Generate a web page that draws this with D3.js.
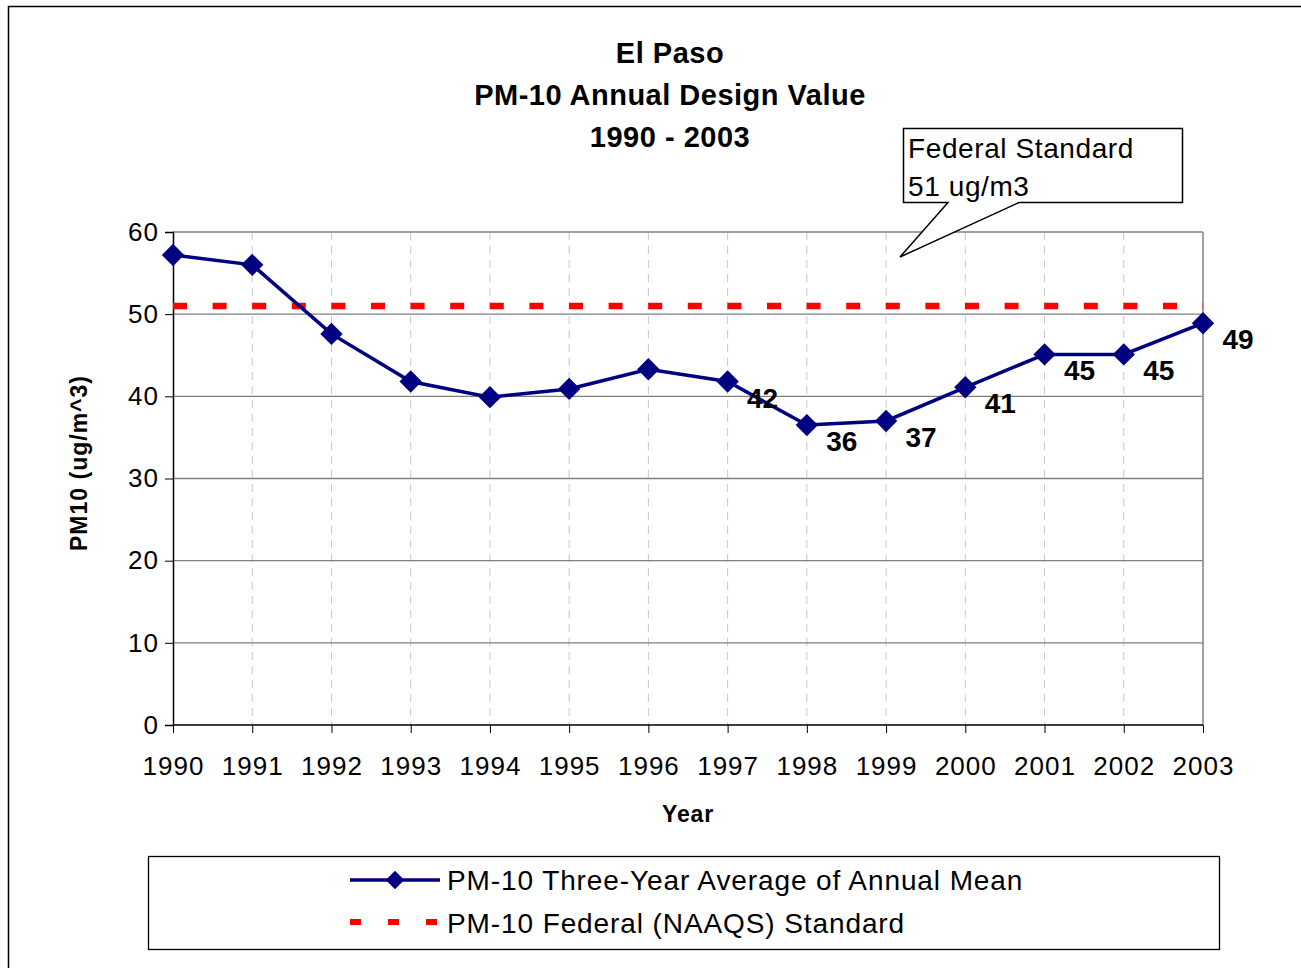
<!DOCTYPE html>
<html><head><meta charset="utf-8">
<script src="https://cdn.jsdelivr.net/npm/d3@7"></script>
<style>body{margin:0;background:#fff;}svg{display:block;font-family:"Liberation Sans",Arial,sans-serif;}</style>
</head><body>
<svg id="c" width="1301" height="968"></svg>
<script>
const years = [1990,1991,1992,1993,1994,1995,1996,1997,1998,1999,2000,2001,2002,2003];
const pm10 = [57.2,56.0,47.6,41.8,39.9,40.9,43.3,41.8,36.5,37.0,41.1,45.1,45.1,48.9];
const pointLabels = [null,null,null,null,null,null,null,"42","36","37","41","45","45","49"];
const standard = [51,51,51,51,51,51,51,51,51,51,51,51,51,51];
const yTicks = [0,10,20,30,40,50,60];
const titleLines = ["El Paso","PM-10 Annual Design Value","1990 - 2003"];
const legendNames = ["PM-10 Three-Year Average of Annual Mean","PM-10 Federal (NAAQS) Standard"];
const calloutLines = ["Federal Standard","51 ug/m3"];

const svg = d3.select("#c");
const L=173,R=1203,T=232,B=725;
const x = d3.scalePoint().domain(years).range([L,R]);
const y = d3.scaleLinear().domain([0,60]).range([B,T]);

// outer frame
svg.append("path").attr("d","M8.5,975 V6.5 H1310").attr("fill","none").attr("stroke","#000").attr("stroke-width",1.5);

// title
svg.append("g").selectAll("text").data(titleLines).join("text")
  .attr("x",670).attr("y",(d,i)=>63+i*42).attr("text-anchor","middle")
  .attr("font-size",29).attr("font-weight","bold").attr("letter-spacing",0.5).text(d=>d);

// vertical dashed grid
svg.append("g").selectAll("line").data(years.slice(1,-1)).join("line")
  .attr("x1",d=>x(d)).attr("x2",d=>x(d)).attr("y1",T).attr("y2",B)
  .attr("stroke","#c8c8c8").attr("stroke-dasharray","8,6");
// horizontal grid
svg.append("g").selectAll("line").data(yTicks.slice(1)).join("line")
  .attr("x1",L).attr("x2",R).attr("y1",d=>y(d)).attr("y2",d=>y(d))
  .attr("stroke","#808080").attr("stroke-width",1.3);
// right border
svg.append("line").attr("x1",R).attr("x2",R).attr("y1",T).attr("y2",B).attr("stroke","#808080").attr("stroke-width",1.5);

// axes
const yAxis = d3.axisLeft(y).tickValues(yTicks).tickSize(8).tickPadding(6);
const gy = svg.append("g").attr("transform",`translate(${L},0)`).call(yAxis);
gy.select(".domain").attr("stroke","#000").attr("stroke-width",1.5);
gy.selectAll(".tick line").attr("stroke","#000");
gy.selectAll("text").attr("font-size",26).attr("letter-spacing",1).attr("fill","#000").attr("font-family","Liberation Sans, Arial, sans-serif");

const xAxis = d3.axisBottom(x).tickSize(8).tickPadding(24).tickFormat(d=>d);
const gx = svg.append("g").attr("transform",`translate(0,${B})`).call(xAxis);
gx.select(".domain").attr("stroke","#000").attr("stroke-width",1.5).attr("d",`M${L},0H${R}`);
gx.selectAll(".tick line").attr("stroke","#000");
gx.selectAll("text").attr("font-size",26).attr("letter-spacing",1).attr("fill","#000").attr("font-family","Liberation Sans, Arial, sans-serif");

// axis titles
svg.append("text").attr("x",688).attr("y",822).attr("text-anchor","middle").attr("font-size",23).attr("letter-spacing",0.8).attr("font-weight","bold").text("Year");
svg.append("text").attr("transform","translate(87,463) rotate(-90)").attr("text-anchor","middle").attr("font-size",23).attr("letter-spacing",1).attr("font-weight","bold").text("PM10 (ug/m^3)");

// standard line
const line = d3.line().x((d,i)=>x(years[i])).y(d=>y(d));
svg.append("path").datum(standard).attr("d",line).attr("fill","none")
  .attr("stroke","#ff0000").attr("stroke-width",6.5).attr("stroke-dasharray","14,25.6");

// data line
svg.append("path").datum(pm10).attr("d",line).attr("fill","none").attr("stroke","#000080").attr("stroke-width",3.5);
svg.append("g").selectAll("path").data(pm10).join("path")
  .attr("transform",(d,i)=>`translate(${x(years[i])},${y(d)}) rotate(45)`)
  .attr("d",d3.symbol().type(d3.symbolSquare).size(250)).attr("fill","#000080");

// point labels
const labelData = years.map((yr,i)=>({yr, v:pm10[i], lab:pointLabels[i]})).filter(d=>d.lab);
svg.append("g").selectAll("text").data(labelData).join("text")
  .attr("x",d=>x(d.yr)+35).attr("y",d=>y(d.v)+26).attr("text-anchor","middle")
  .attr("font-size",28).attr("font-weight","bold").text(d=>d.lab);

// callout
const cg = svg.append("g");
cg.append("path").attr("d","M903.5,128.5 H1182.5 V202.5 H1019 L900,257 L948,202.5 H903.5 Z")
  .attr("fill","#fff").attr("stroke","#000").attr("stroke-width",1.5);
cg.selectAll("text").data(calloutLines).join("text").attr("x",908).attr("y",(d,i)=>158+i*38)
  .attr("font-size",28).attr("letter-spacing",0.6).text(d=>d);

// legend
const lg = svg.append("g");
lg.append("rect").attr("x",148.5).attr("y",856.5).attr("width",1071).attr("height",93)
  .attr("fill","#fff").attr("stroke","#000").attr("stroke-width",1.3);
lg.append("line").attr("x1",350).attr("x2",440).attr("y1",880).attr("y2",880).attr("stroke","#000080").attr("stroke-width",3.5);
lg.append("path").attr("transform","translate(395,880) rotate(45)").attr("d",d3.symbol().type(d3.symbolSquare).size(170)).attr("fill","#000080");
lg.append("line").attr("x1",350).attr("x2",440).attr("y1",922).attr("y2",922).attr("stroke","#ff0000").attr("stroke-width",6).attr("stroke-dasharray","11,27");
lg.selectAll("text").data(legendNames).join("text").attr("x",447).attr("y",(d,i)=>890+i*43)
  .attr("font-size",28).attr("letter-spacing",0.9).text(d=>d);
</script>
</body></html>
